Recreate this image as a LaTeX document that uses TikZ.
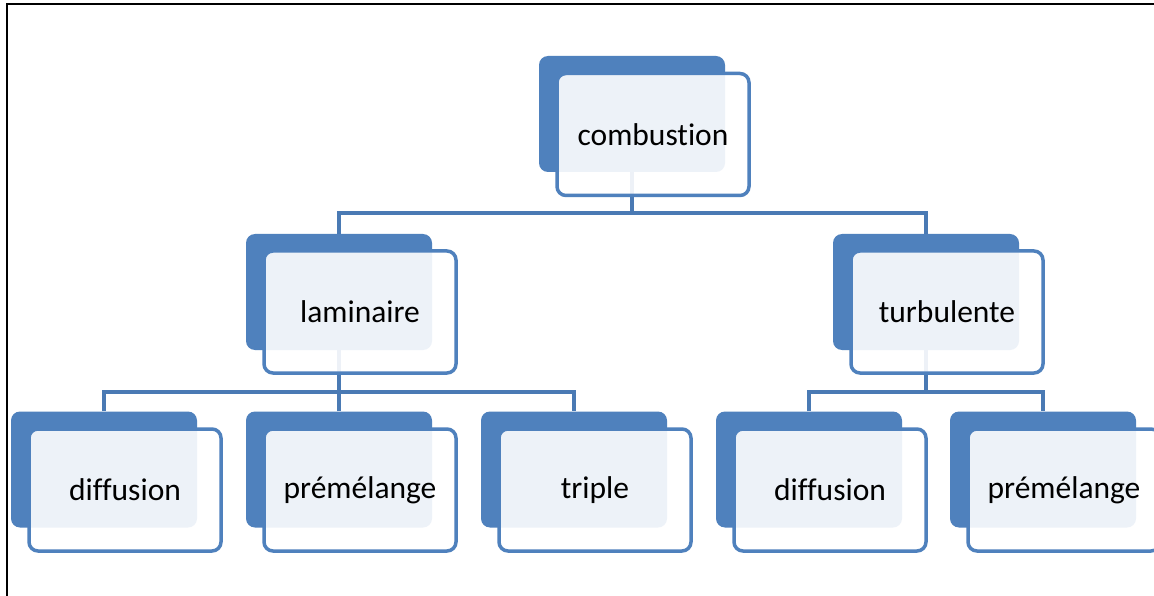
\documentclass[tikz,border=0pt]{standalone}
\usepackage{fontspec}
\setmainfont[Ligatures=NoCommon]{Carlito}
\definecolor{officeblue}{RGB}{79,129,189}
\definecolor{linkblue}{RGB}{74,122,180}
\tikzset{
  backbox/.style={rectangle, rounded corners=9pt, fill=officeblue,
    minimum width=186pt, minimum height=116pt, inner sep=0pt},
  frontbox/.style={rectangle, rounded corners=9pt, draw=officeblue,
    line width=3.5pt, fill=white, fill opacity=0.9, text opacity=1,
    minimum width=192pt, minimum height=122pt, inner sep=0pt,
    font=\fontsize{31.5}{37}\selectfont},
  link/.style={draw=linkblue, line width=4pt},
  frameline/.style={draw=black, line width=2.2pt}
}
\begin{document}
\begin{tikzpicture}[x=1pt,y=-1pt]
\useasboundingbox (0,0) rectangle (1154,596);
\fill[white] (0,0) rectangle (1154,596);
\draw[frameline] (7,596) -- (7,4) -- (1154,4);

% blue back panels
\node[backbox] (comb) at (632,114) {};
\node[backbox] (lam)  at (339,292) {};
\node[backbox] (turb) at (926,292) {};
\node[backbox] (ld)   at (104,469.5) {};
\node[backbox] (lp)   at (339,469.5) {};
\node[backbox] (lt)   at (574,469.5) {};
\node[backbox] (td)   at (809,469.5) {};
\node[backbox] (tp)   at (1043,469.5) {};

% tree links
\coordinate (b0) at (632,213);
\coordinate (b1) at (339,392);
\coordinate (b2) at (926,392);
\draw[link] (comb.south) -- (b0);
\draw[link] (lam.north) -- (lam.north |- b0) -- (turb.north |- b0) -- (turb.north);
\draw[link] (lam.south) -- (b1);
\draw[link] (ld.north) -- (ld.north |- b1) -- (lt.north |- b1) -- (lt.north);
\draw[link] (lp.north) -- (b1);
\draw[link] (turb.south) -- (b2);
\draw[link] (td.north) -- (td.north |- b2) -- (tp.north |- b2) -- (tp.north);

% front labelled panels
\node[frontbox] (combf) at (653,134.5) {combustion};
\node[frontbox] (lamf)  at (360,312) {laminaire};
\node[frontbox] (turbf) at (947,312) {turbulente};
\node[frontbox] (ldf)   at (125,490) {diffusion};
\node[frontbox] (lpf)   at (360,490) {prémélange};
\node[frontbox] (ltf)   at (595,490) {triple};
\node[frontbox] (tdf)   at (830,490) {diffusion};
\node[frontbox] (tpf)   at (1064,490) {prémélange};
\end{tikzpicture}
\end{document}
